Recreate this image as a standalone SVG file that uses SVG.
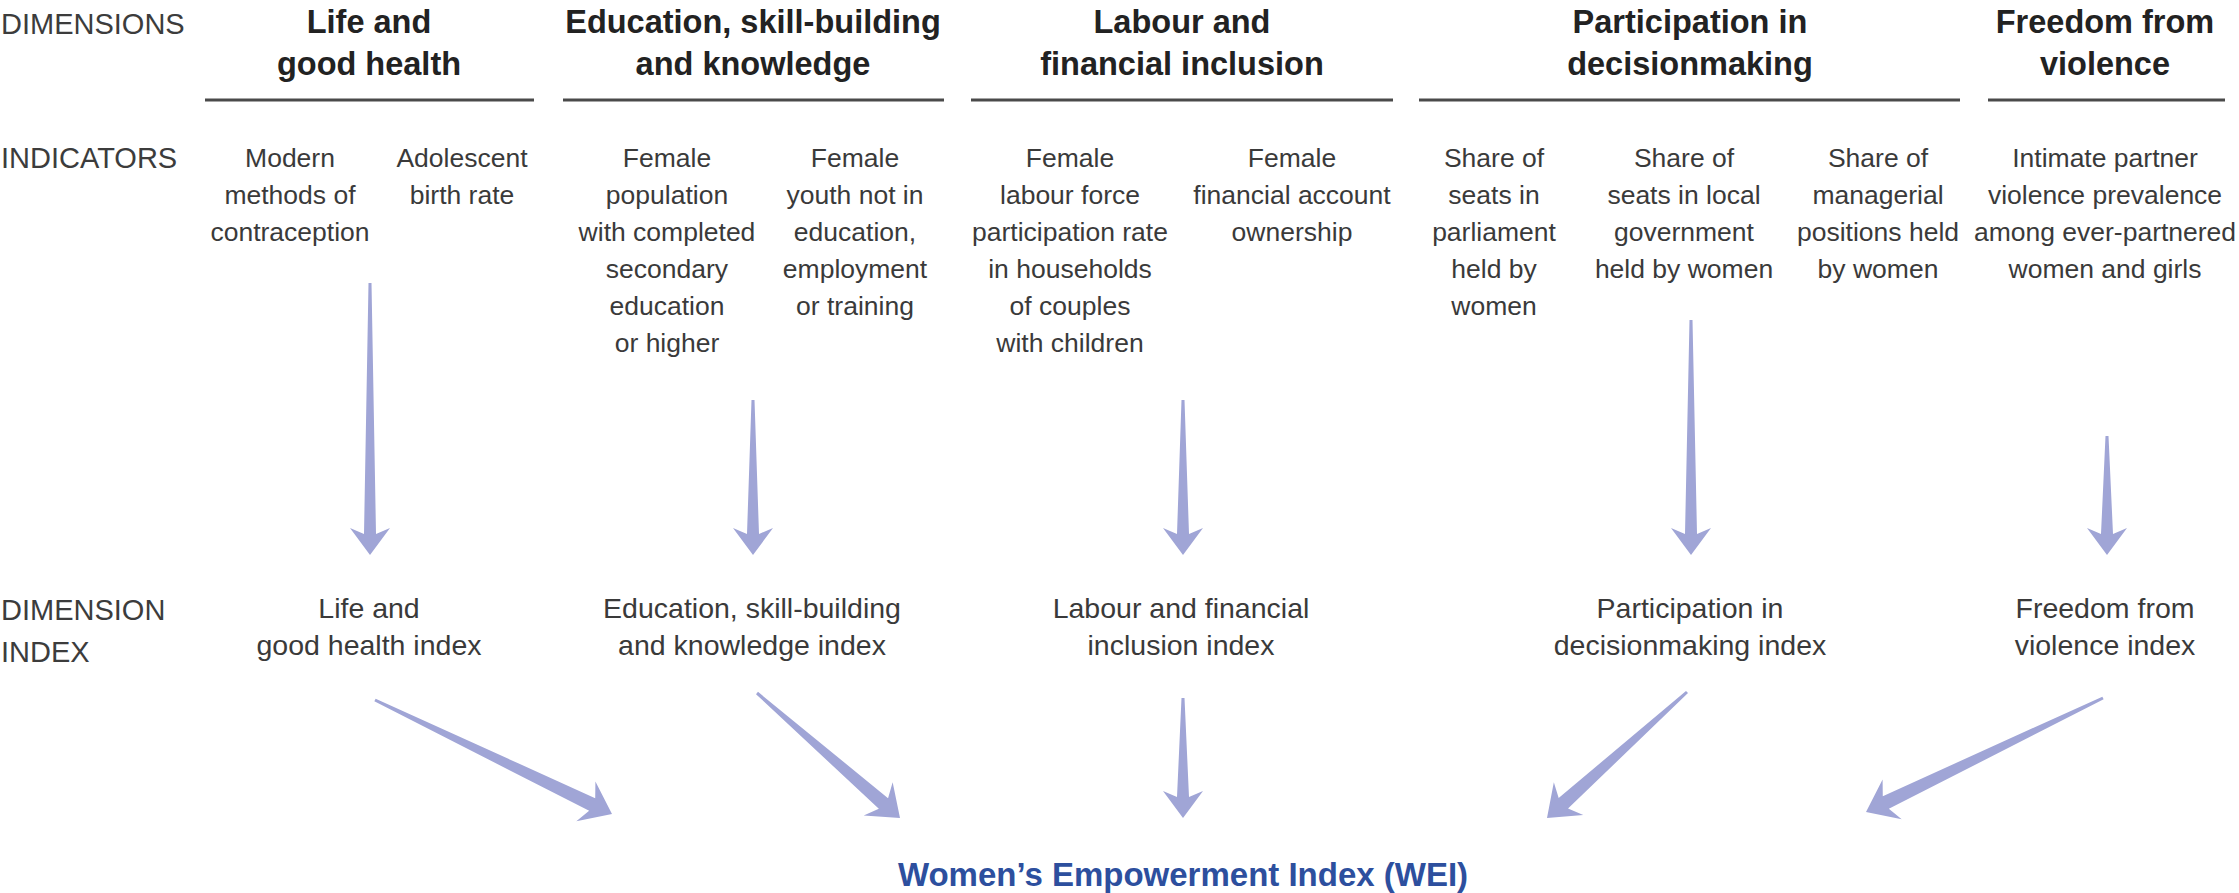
<svg xmlns="http://www.w3.org/2000/svg" width="2239" height="893" viewBox="0 0 2239 893">
<style>
text{font-family:"Liberation Sans",Arial,sans-serif;fill:#3a3a3a}
.lab{font-size:29px;fill:#3c3c3c}
.hd{font-size:32.5px;font-weight:bold;fill:#222;text-anchor:middle}
.ind{font-size:26.5px;text-anchor:middle}
.di{font-size:28.5px;text-anchor:middle}
.wei{font-size:33px;font-weight:bold;fill:#2d4f9e;text-anchor:middle}
.ul{stroke:#4a4a4a;stroke-width:3}
.ar{fill:#a0a5d6;stroke:none}
</style>
<rect width="2239" height="893" fill="#ffffff"/>
<g id="row-labels">
<text class="lab" x="1" y="34">DIMENSIONS</text>
<text class="lab" x="1" y="168">INDICATORS</text>
<text class="lab" x="1" y="620">DIMENSION</text>
<text class="lab" x="1" y="662">INDEX</text>
</g>
<g id="dim-life">
<text class="hd" x="369" y="33">Life and</text>
<text class="hd" x="369" y="75">good health</text>
<line class="ul" x1="205" y1="100" x2="534" y2="100"/>
</g>
<g id="dim-education">
<text class="hd" x="753" y="33">Education, skill-building</text>
<text class="hd" x="753" y="75">and knowledge</text>
<line class="ul" x1="563" y1="100" x2="944" y2="100"/>
</g>
<g id="dim-labour">
<text class="hd" x="1182" y="33">Labour and</text>
<text class="hd" x="1182" y="75">financial inclusion</text>
<line class="ul" x1="971" y1="100" x2="1393" y2="100"/>
</g>
<g id="dim-participation">
<text class="hd" x="1690" y="33">Participation in</text>
<text class="hd" x="1690" y="75">decisionmaking</text>
<line class="ul" x1="1419" y1="100" x2="1960" y2="100"/>
</g>
<g id="dim-freedom">
<text class="hd" x="2105" y="33">Freedom from</text>
<text class="hd" x="2105" y="75">violence</text>
<line class="ul" x1="1988" y1="100" x2="2225" y2="100"/>
</g>
<g id="ind-contraception">
<text class="ind" x="290" y="167">Modern</text>
<text class="ind" x="290" y="204">methods of</text>
<text class="ind" x="290" y="241">contraception</text>
</g>
<g id="ind-adolescent">
<text class="ind" x="462" y="167">Adolescent</text>
<text class="ind" x="462" y="204">birth rate</text>
</g>
<g id="ind-secondary">
<text class="ind" x="667" y="167">Female</text>
<text class="ind" x="667" y="204">population</text>
<text class="ind" x="667" y="241">with completed</text>
<text class="ind" x="667" y="278">secondary</text>
<text class="ind" x="667" y="315">education</text>
<text class="ind" x="667" y="352">or higher</text>
</g>
<g id="ind-neet">
<text class="ind" x="855" y="167">Female</text>
<text class="ind" x="855" y="204">youth not in</text>
<text class="ind" x="855" y="241">education,</text>
<text class="ind" x="855" y="278">employment</text>
<text class="ind" x="855" y="315">or training</text>
</g>
<g id="ind-labourforce">
<text class="ind" x="1070" y="167">Female</text>
<text class="ind" x="1070" y="204">labour force</text>
<text class="ind" x="1070" y="241">participation rate</text>
<text class="ind" x="1070" y="278">in households</text>
<text class="ind" x="1070" y="315">of couples</text>
<text class="ind" x="1070" y="352">with children</text>
</g>
<g id="ind-account">
<text class="ind" x="1292" y="167">Female</text>
<text class="ind" x="1292" y="204">financial account</text>
<text class="ind" x="1292" y="241">ownership</text>
</g>
<g id="ind-parliament">
<text class="ind" x="1494" y="167">Share of</text>
<text class="ind" x="1494" y="204">seats in</text>
<text class="ind" x="1494" y="241">parliament</text>
<text class="ind" x="1494" y="278">held by</text>
<text class="ind" x="1494" y="315">women</text>
</g>
<g id="ind-localgov">
<text class="ind" x="1684" y="167">Share of</text>
<text class="ind" x="1684" y="204">seats in local</text>
<text class="ind" x="1684" y="241">government</text>
<text class="ind" x="1684" y="278">held by women</text>
</g>
<g id="ind-managerial">
<text class="ind" x="1878" y="167">Share of</text>
<text class="ind" x="1878" y="204">managerial</text>
<text class="ind" x="1878" y="241">positions held</text>
<text class="ind" x="1878" y="278">by women</text>
</g>
<g id="ind-violence">
<text class="ind" x="2105" y="167">Intimate partner</text>
<text class="ind" x="2105" y="204">violence prevalence</text>
<text class="ind" x="2105" y="241">among ever-partnered</text>
<text class="ind" x="2105" y="278">women and girls</text>
</g>
<g id="idx-life">
<text class="di" x="369" y="618">Life and</text>
<text class="di" x="369" y="655">good health index</text>
</g>
<g id="idx-education">
<text class="di" x="752" y="618">Education, skill-building</text>
<text class="di" x="752" y="655">and knowledge index</text>
</g>
<g id="idx-labour">
<text class="di" x="1181" y="618">Labour and financial</text>
<text class="di" x="1181" y="655">inclusion index</text>
</g>
<g id="idx-participation">
<text class="di" x="1690" y="618">Participation in</text>
<text class="di" x="1690" y="655">decisionmaking index</text>
</g>
<g id="idx-freedom">
<text class="di" x="2105" y="618">Freedom from</text>
<text class="di" x="2105" y="655">violence index</text>
</g>
<g id="wei">
<text class="wei" x="1183" y="886">Women’s Empowerment Index (WEI)</text>
</g>
<g id="connectors">
<polygon class="ar" points="368.5,283 371.5,283 376,534 390,528 370,555 350,528 364,534"/>
<polygon class="ar" points="751.5,400 754.5,400 759,534 773,528 753,555 733,528 747,534"/>
<polygon class="ar" points="1181.5,400 1184.5,400 1189,534 1203,528 1183,555 1163,528 1177,534"/>
<polygon class="ar" points="1689.5,320 1692.5,320 1697,534 1711,528 1691,555 1671,528 1685,534"/>
<polygon class="ar" points="2105.5,436 2108.5,436 2113,534 2127,528 2107,555 2087,528 2101,534"/>
<polygon class="ar" points="1181.5,698 1184.5,698 1189,797 1203,791 1183,818 1163,791 1177,797"/>
<polygon class="ar" points="374.35,701.35 589.15,810.77 576.33,821.25 612,814 595.41,781.61 595.21,798.15 375.65,698.65"/>
<polygon class="ar" points="756.01,694.13 878.83,808.79 863.69,815.48 900,818 892.65,782.36 888.05,798.25 757.99,691.87"/>
<polygon class="ar" points="1686.0,690.89 1558.67,798.08 1553.84,782.25 1547,818 1583.28,814.95 1568.03,808.48 1688.0,693.11"/>
<polygon class="ar" points="2102.35,696.65 1882.79,796.15 1882.59,779.61 1866,812 1901.67,819.25 1888.85,808.77 2103.65,699.35"/>
</g>
</svg>
